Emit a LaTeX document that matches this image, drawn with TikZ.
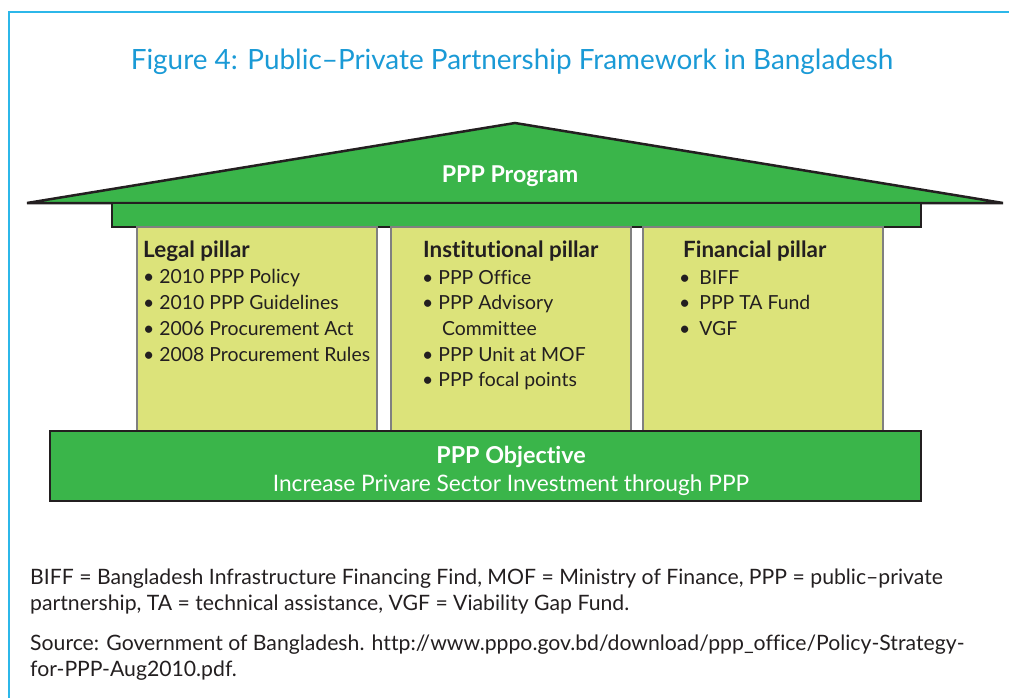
\documentclass[tikz,border=0pt]{standalone}
\usepackage{fontspec}
\setmainfont{Lato}[Ligatures={NoCommon,NoRequired,NoContextual},Contextuals={NoAlternate}]
\definecolor{roofgreen}{HTML}{3AB54A}
\definecolor{pillarfill}{HTML}{DCE37A}
\definecolor{framecyan}{HTML}{2CB7E9}
\definecolor{titleblue}{HTML}{1A9AD6}
\definecolor{inkgray}{HTML}{231F20}
\begin{document}
\begin{tikzpicture}[
    x=1pt, y=-1pt,
    slab/.style={draw=inkgray,fill=roofgreen,line width=2.5pt,line join=miter},
    pillar/.style={draw=gray,fill=pillarfill,line width=2pt,inner sep=0pt},
    phead/.style={anchor=base west,inner sep=0pt,text=inkgray,
      font=\fontsize{22.4}{26}\selectfont\bfseries},
    ptext/.style={anchor=base west,align=left,inner sep=0pt,text=inkgray,
      font=\fontsize{19.4}{25.7}\selectfont},
    white txt/.style={text=white,inner sep=0pt,anchor=base},
    note/.style={anchor=base west,align=left,inner sep=0pt,text=inkgray,
      font=\fontsize{21.2}{25.5}\selectfont}]
 \useasboundingbox (0,0) rectangle (1009,698);
 \draw[framecyan,line width=2.5pt] (9,698) -- (9,12) -- (1009,12);
 \node [text=titleblue,anchor=base,inner sep=0pt,font=\fontsize{27.9}{32}\selectfont] (title)
   at (512,70) {Figure 4: Public–Private Partnership Framework in Bangladesh};
 % roof and beam
 \draw[slab] (27,203) -- (515,123) -- (1003,203) -- cycle;
 \draw[slab] (112,203) rectangle (921,227);
 \node [white txt,font=\fontsize{23.2}{26}\selectfont\bfseries] (prog) at (510,182) {PPP Program};
 % the three pillars
 \node [pillar,minimum width=240,minimum height=204] (legal) at (257,329) {};
 \node [pillar,minimum width=240,minimum height=204] (inst) at (510.5,329) {};
 \node [pillar,minimum width=240,minimum height=204] (fin) at (763,329) {};
 \node [phead] (legalhd) at (143,257) {Legal pillar};
 \node [ptext] (legaltxt) at (143,361) {\textbullet\ 2010 PPP Policy\\
   \textbullet\ 2010 PPP Guidelines\\
   \textbullet\ 2006 Procurement Act\\
   \textbullet\ 2008 Procurement Rules};
 \node [phead] (insthd) at (423,257) {Institutional pillar};
 \node [ptext] (insttxt) at (422,386.8) {\textbullet\ PPP Office\\
   \textbullet\ PPP Advisory\\
   \hspace{20pt}Committee\\
   \textbullet\ PPP Unit at MOF\\
   \textbullet\ PPP focal points};
 \node [phead] (finhd) at (683,257) {Financial pillar};
 \node [ptext] (fintxt) at (679,335.4) {\textbullet\ \hspace{4pt}BIFF\\
   \textbullet\ \hspace{4pt}PPP TA Fund\\
   \textbullet\ \hspace{4pt}VGF};
 % base
 \draw[slab] (50,431) rectangle (921,501);
 \node [white txt,font=\fontsize{23.3}{26}\selectfont\bfseries] (obj) at (511,463) {PPP Objective};
 \node [white txt,font=\fontsize{22.7}{26}\selectfont] (objtxt) at (511,491)
   {Increase Privare Sector Investment through PPP};
 % notes
 \node [note] (abbr) at (30,610) {BIFF = Bangladesh Infrastructure Financing Find, MOF = Ministry of Finance, PPP = public–private\\
   partnership, TA = technical assistance, VGF = Viability Gap Fund.};
 \node [note] (src) at (30,676) {Source: Government of Bangladesh. http://www.pppo.gov.bd/download/ppp\_office/Policy-Strategy-\\
   for-PPP-Aug2010.pdf.};
\end{tikzpicture}
\end{document}
